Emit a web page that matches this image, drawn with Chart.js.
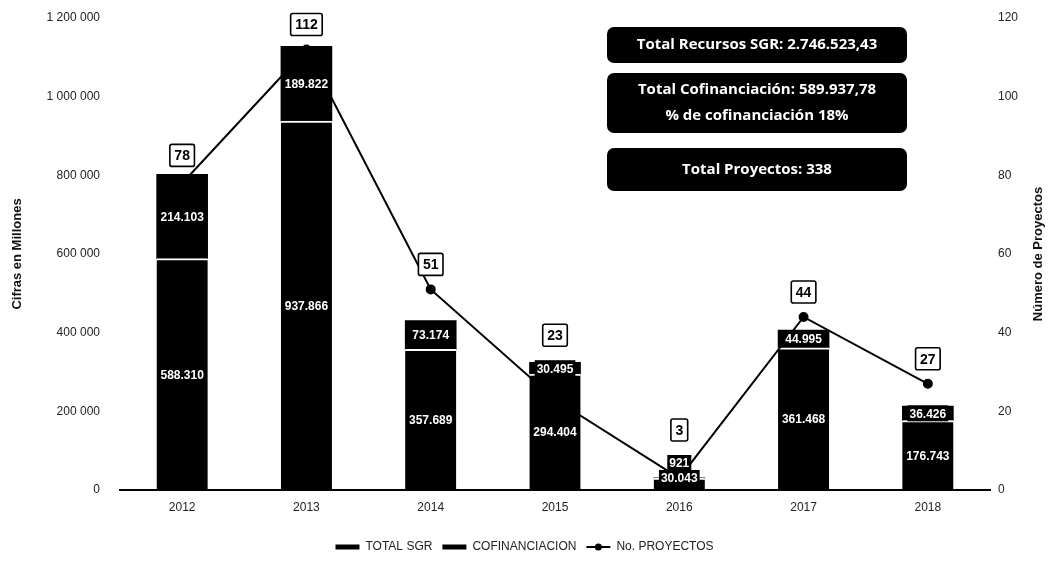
<!DOCTYPE html>
<html>
<head>
<meta charset="utf-8">
<script src="https://cdn.jsdelivr.net/npm/chart.js@4/dist/chart.umd.min.js"></script>
<style>
  html, body { margin: 0; padding: 0; background: #fff; }
  #wrap { width: 1049px; height: 565px; }
</style>
</head>
<body>
<div id="wrap"><canvas id="chart"></canvas></div>
<script>
const years = ["2012", "2013", "2014", "2015", "2016", "2017", "2018"];
const totalSgr = [588310, 937866, 357689, 294404, 30043, 361468, 176743];
const cofinanciacion = [214103, 189822, 73174, 30495, 921, 44995, 36426];
const proyectos = [78, 112, 51, 23, 3, 44, 27];

const leftTickLabels = {
  0: "0",
  200000: "200 000",
  400000: "400 000",
  600000: "600 000",
  800000: "800 000",
  1000000: "1 000 000",
  1200000: "1 200 000",
};
const rightTicks = [0, 20, 40, 60, 80, 100, 120];

const summaryBoxes = [
  ["Total Recursos SGR: 2.746.523,43"],
  ["Total Cofinanciación: 589.937,78", "% de cofinanciación 18%"],
  ["Total Proyectos: 338"],
];

const fmt = (v) => v.toLocaleString("de-DE");

function valueTag(ctx, text, x, y) {
  const w = ctx.measureText(text).width + 4;
  ctx.fillStyle = "#000";
  ctx.fillRect(x - w / 2, y - 8, w, 16);
  ctx.fillStyle = "#fff";
  ctx.fillText(text, x, y + 1);
}

const labelsPlugin = {
  id: "labels",
  afterDatasetsDraw(chart) {
    const ctx = chart.ctx;
    const sgrMeta = chart.getDatasetMeta(0);
    const cofMeta = chart.getDatasetMeta(1);
    const lineMeta = chart.getDatasetMeta(2);
    const base = chart.scales.y.getPixelForValue(0);
    ctx.save();
    ctx.textAlign = "center";
    ctx.textBaseline = "middle";
    years.forEach((yr, i) => {
      const s = sgrMeta.data[i];
      const c = cofMeta.data[i];
      ctx.font = 'bold 12px "Liberation Sans", Arial, sans-serif';
      const sy = Math.min((s.y + base) / 2, base - 12);
      const cy = Math.min((c.y + s.y) / 2, sy - 15);
      valueTag(ctx, fmt(totalSgr[i]), s.x, sy);
      valueTag(ctx, fmt(cofinanciacion[i]), c.x, cy);

      // project count box
      const pt = lineMeta.data[i];
      const top = Math.min(pt.y, c.y + 6, cy - 8);
      const by = top - 25;
      ctx.font = 'bold 14px "Liberation Sans", Arial, sans-serif';
      const txt = String(proyectos[i]);
      const w = ctx.measureText(txt).width + 9;
      ctx.fillStyle = "#fff";
      ctx.strokeStyle = "#000";
      ctx.lineWidth = 1.6;
      ctx.beginPath();
      ctx.roundRect(pt.x - w / 2, by - 11, w, 22, 2);
      ctx.fill();
      ctx.stroke();
      ctx.fillStyle = "#000";
      ctx.fillText(txt, pt.x, by + 1);
    });
    ctx.restore();
  },
  afterDraw(chart) {
    const ctx = chart.ctx;
    const area = chart.chartArea;
    const midY = (area.top + area.bottom) / 2;
    ctx.save();
    // axis titles
    ctx.fillStyle = "#111";
    ctx.font = 'bold 13px "Liberation Sans", Arial, sans-serif';
    ctx.textAlign = "center";
    ctx.textBaseline = "middle";
    ctx.save();
    ctx.translate(17, midY);
    ctx.rotate(-Math.PI / 2);
    ctx.fillText("Cifras en Millones", 0, 0);
    ctx.restore();
    ctx.save();
    ctx.translate(1038, midY);
    ctx.rotate(-Math.PI / 2);
    ctx.fillText("Número de Proyectos", 0, 0);
    ctx.restore();

    // summary boxes
    const boxes = [
      { y: 27, h: 36 },
      { y: 73, h: 60 },
      { y: 148, h: 43 },
    ];
    ctx.font = 'bold 15px "Open Sans", sans-serif';
    summaryBoxes.forEach((lines, k) => {
      const b = boxes[k];
      ctx.fillStyle = "#000";
      ctx.beginPath();
      ctx.roundRect(607, b.y, 300, b.h, 7);
      ctx.fill();
      ctx.fillStyle = "#fff";
      const lh = 26;
      const y0 = b.y + b.h / 2 - ((lines.length - 1) * lh) / 2;
      lines.forEach((ln, j) => ctx.fillText(ln, 757, y0 + j * lh, 292));
    });

    // dot on the line legend marker
    const hb = chart.legend.legendHitBoxes[2];
    if (hb) {
      ctx.fillStyle = "#000";
      ctx.beginPath();
      ctx.arc(hb.left + 12, hb.top + hb.height / 2, 3.5, 0, Math.PI * 2);
      ctx.fill();
    }
    ctx.restore();
  },
};

new Chart(document.getElementById("chart"), {
  data: {
    labels: years,
    datasets: [
      {
        type: "bar",
        label: "TOTAL SGR",
        data: totalSgr,
        backgroundColor: "#000",
        borderColor: "#fff",
        borderWidth: { top: 2, left: 0, right: 0, bottom: 0 },
        borderSkipped: false,
        barThickness: 51,
        stack: "s",
        yAxisID: "y",
        order: 2,
      },
      {
        type: "bar",
        label: "COFINANCIACION",
        data: cofinanciacion,
        backgroundColor: "#000",
        barThickness: 51,
        stack: "s",
        yAxisID: "y",
        order: 2,
      },
      {
        type: "line",
        label: "No. PROYECTOS",
        data: proyectos,
        borderColor: "#000",
        backgroundColor: "#000",
        borderWidth: 2,
        pointRadius: 4,
        pointBackgroundColor: "#000",
        tension: 0,
        yAxisID: "y1",
        order: 0,
      },
    ],
  },
  options: {
    responsive: true,
    maintainAspectRatio: false,
    animation: false,
    layout: { padding: { top: 18, bottom: 2, left: 0, right: 0 } },
    scales: {
      x: {
        stacked: true,
        grid: { display: false },
        border: { display: true, color: "#000", width: 2 },
        ticks: { color: "#222", padding: 2, font: { size: 12, family: '"Liberation Sans", Arial' } },
        afterFit: (s) => { s.height = 41; },
      },
      y: {
        stacked: true,
        position: "left",
        min: 0,
        max: 1200000,
        grid: { display: true, drawOnChartArea: false, drawTicks: true, tickLength: 16, color: "transparent" },
        border: { display: false },
        ticks: {
          stepSize: 200000,
          padding: 4,
          color: "#222",
          font: { size: 12, family: '"Liberation Sans", Arial' },
          callback: (v) => leftTickLabels[v] ?? "",
        },
        afterFit: (s) => { s.width = 120; },
      },
      y1: {
        position: "right",
        min: 0,
        max: 120,
        grid: { display: false, drawTicks: false },
        border: { display: false },
        ticks: {
          stepSize: 20,
          padding: 8,
          color: "#222",
          font: { size: 12, family: '"Liberation Sans", Arial' },
          callback: (v) => (rightTicks.includes(v) ? String(v) : ""),
        },
        afterFit: (s) => { s.width = 59; },
      },
    },
    plugins: {
      tooltip: { enabled: false },
      legend: {
        display: true,
        position: "bottom",
        labels: {
          color: "#222",
          font: { size: 12, family: '"Liberation Sans", Arial' },
          usePointStyle: true,
          pointStyleWidth: 24,
          padding: 10,
          generateLabels: (chart) =>
            chart.data.datasets.map((ds, i) => ({
              text: ds.label,
              datasetIndex: i,
              fillStyle: "#000",
              strokeStyle: "#000",
              lineWidth: ds.type === "bar" ? 5 : 2,
              pointStyle: "line",
              fontColor: "#222",
              hidden: false,
            })),
        },
      },
    },
  },
  plugins: [labelsPlugin],
});
</script>
</body>
</html>
